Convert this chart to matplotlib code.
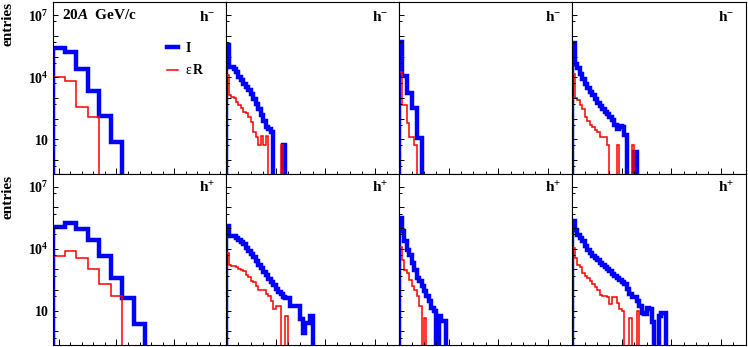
import matplotlib
matplotlib.use("Agg")
import matplotlib.pyplot as plt
import numpy as np
from matplotlib.lines import Line2D
from matplotlib.ticker import FixedLocator, MultipleLocator, FuncFormatter, NullFormatter

plt.rcParams['font.family'] = ['Liberation Serif', 'DejaVu Serif']
plt.rcParams['mathtext.fontset'] = 'custom'
plt.rcParams['mathtext.rm'] = 'Liberation Serif'
plt.rcParams['mathtext.bf'] = 'Liberation Serif:bold'
plt.rcParams['mathtext.it'] = 'Liberation Serif:italic'
plt.rcParams['mathtext.bfit'] = 'Liberation Serif:italic:bold'

# binning of each column: (x_min, x_max, number of bins)
col_bins = [(-0.1, 2.9, 15), (0.0, 3.5, 70), (0.0, 3.5, 70), (0.0, 3.5, 70)]

# h- row: I (blue) and eps*R (red), one list per column, bins from the left
hneg_I_1 = [2.5e5, 1.6e5, 2.4e4, 2100, 140, 7]
hneg_I_2 = [3.5e5, 3.2e4, 3.2e4, 2.6e4, 1.8e4, 1.05e4, 7200, 4700, 3300, 2400, 1500, 870,
            500, 290, 150, 76, 39, 31, 22, 0, 0, 0, 0, 5]
hneg_I_3 = [5.1e5, 1.1e4, 1.1e4, 1660, 1660, 310, 310, 11, 11]
hneg_I_4 = [4.3e5, 4.3e4, 2.7e4, 1.5e4, 7800, 4700, 2900, 2000, 1400, 850, 575, 400, 275,
            215, 165, 115, 85, 49, 30, 44, 38, 16, 0, 0, 0, 2.5]
hneg_R_1 = [1.05e4, 6500, 370, 120]
hneg_R_2 = [1.26e4, 1380, 1120, 950, 650, 450, 310, 215, 180, 123, 71, 23, 13, 5, 14, 5, 14,
            0, 0, 0, 0, 0, 5]
hneg_R_3 = [1.8e4, 450, 450, 59, 13, 13, 5]
hneg_R_4 = [1.5e4, 950, 780, 450, 280, 123, 80, 49, 40, 28, 22, 13, 13, 13, 5, 0, 0, 0, 5,
            0, 0, 0, 0, 0, 5]

# h+ row
hpos_I_1 = [1.07e5, 1.8e5, 9.1e4, 2.75e4, 4300, 390, 39, 2.4]
hpos_I_2 = [1.2e5, 4.3e4, 4.2e4, 4.0e4, 3.3e4, 2.6e4, 2.1e4, 1.6e4, 1.1e4, 7900, 5600, 3800,
            2600, 1660, 1120, 760, 525, 355, 240, 166, 112, 79, 63, 45, 42, 40, 17, 17, 16,
            17, 4, 0.85, 2.6, 2.6, 5.4]
hpos_I_3 = [3.1e5, 6.9e4, 2.3e4, 9100, 5000, 2000, 890, 400, 270, 160, 89, 50, 28, 14, 10,
            0, 5.4, 3.1, 3.1]
hpos_I_4 = [2.1e5, 8.3e4, 4.8e4, 3.3e4, 2.3e4, 1.3e4, 9100, 6300, 4300, 3600, 2750, 2000,
            1660, 1260, 1070, 810, 630, 470, 400, 320, 250, 190, 117, 66, 45, 45, 29, 17, 8,
            7, 14, 12, 2.8, 0, 0, 5.4, 8, 8]
hpos_R_1 = [4650, 7400, 3600, 1100, 205, 50]
hpos_R_2 = [6300, 1700, 1400, 1400, 1260, 1000, 890, 830, 525, 420, 280, 250, 160, 100, 98,
            98, 63, 50, 29, 11.5, 17, 17, 0, 0, 5.4]
hpos_R_3 = [1.23e4, 2950, 980, 680, 320, 160, 105, 50, 16, 0, 4.6]
hpos_R_4 = [1.1e4, 3600, 1700, 1260, 680, 470, 400, 270, 190, 140, 105, 60, 52, 52, 45, 21,
            45, 45, 24, 11.5, 10, 0, 0, 4.6, 0, 0, 9.5]

rows = [
    (r'$\mathbf{h^{-}}$', [hneg_I_1, hneg_I_2, hneg_I_3, hneg_I_4],
     [hneg_R_1, hneg_R_2, hneg_R_3, hneg_R_4]),
    (r'$\mathbf{h^{+}}$', [hpos_I_1, hpos_I_2, hpos_I_3, hpos_I_4],
     [hpos_R_1, hpos_R_2, hpos_R_3, hpos_R_4]),
]

ylabels = {10: r'$\mathbf{10}$', 1e4: r'$\mathbf{10^{4}}$', 1e7: r'$\mathbf{10^{7}}$'}
floor = 1e-3
blue = '#0000ff'
red = '#ff0000'

fig = plt.figure(figsize=(7.48, 3.47), dpi=100)
axes = fig.subplots(2, 4)
fig.subplots_adjust(left=53 / 748, right=745.5 / 748, top=1 - 2 / 347, bottom=1 - 345 / 347,
                    wspace=0, hspace=0)

for r, (hlabel, I_list, R_list) in enumerate(rows):
    for c in range(4):
        ax = axes[r, c]
        x0, x1, nb = col_bins[c]
        edges = np.linspace(x0, x1, nb + 1)
        vi = np.zeros(nb)
        vi[:len(I_list[c])] = I_list[c]
        vr = np.zeros(nb)
        vr[:len(R_list[c])] = R_list[c]
        ax.stairs(np.where(vi > 0, vi, floor), edges, baseline=floor, color=blue, lw=3.2,
                  joinstyle='miter')
        ax.stairs(np.where(vr > 0, vr, floor), edges, baseline=floor, color=red, lw=1.1,
                  joinstyle='miter')

        ax.set_yscale('log')
        ax.set_ylim(10 ** -0.66, 10 ** 7.64)
        ax.set_xlim(x0, x1)

        ax.yaxis.set_major_locator(FixedLocator([10.0 ** k for k in range(0, 8)]))
        ax.yaxis.set_minor_locator(FixedLocator([5 * 10.0 ** k for k in range(-1, 7)]))
        ax.yaxis.set_minor_formatter(NullFormatter())
        if c == 0:
            ax.yaxis.set_major_formatter(FuncFormatter(
                lambda v, p: ylabels.get(round(v), '') if v in (10, 1e4, 1e7) else ''))
        else:
            ax.yaxis.set_major_formatter(NullFormatter())

        if c == 0:
            ax.xaxis.set_major_locator(MultipleLocator(1.0))
            ax.xaxis.set_minor_locator(MultipleLocator(0.2))
        else:
            ax.xaxis.set_major_locator(MultipleLocator(1.0))
            ax.xaxis.set_minor_locator(MultipleLocator(0.25))
        ax.xaxis.set_major_formatter(NullFormatter())

        ax.tick_params(axis='both', which='both', direction='in', top=False, right=False,
                       width=0.7, labelsize=10, pad=3)
        ax.tick_params(axis='y', which='major', length=3.6)
        ax.tick_params(axis='y', which='minor', length=2.0)
        ax.tick_params(axis='x', which='major', length=4.3)
        ax.tick_params(axis='x', which='minor', length=2.2)
        for s in ax.spines.values():
            s.set_linewidth(0.8)

        ax.text(1 - 11 / 173, 0.915, hlabel, transform=ax.transAxes, ha='right',
                va='center', fontsize=11)

# title text and legend in first panel
ax = axes[0, 0]
ax.text(0.052, 0.924, r'$\mathbf{20}\mathbfit{A}\ \ \mathbf{GeV/c}$', transform=ax.transAxes,
        ha='left', va='center', fontsize=11)
handles = [Line2D([], [], color=blue, lw=3.2), Line2D([], [], color=red, lw=1.1)]
ax.legend(handles, [r'$\mathbf{I}$', r'$\mathrm{\epsilon}\,\mathbf{R}$'], loc='upper left',
          bbox_to_anchor=(0.66, 0.772), frameon=False, fontsize=10, handlelength=0.8,
          handletextpad=0.5, labelspacing=0.6, borderpad=0, borderaxespad=0)

fig.text(8 / 748, 1 - 2 / 347, 'entries', rotation=90, ha='center', va='top', fontsize=11,
         fontweight='bold')
fig.text(8 / 748, 1 - 175 / 347, 'entries', rotation=90, ha='center', va='top', fontsize=11,
         fontweight='bold')

fig.savefig('out.png', dpi=100)
